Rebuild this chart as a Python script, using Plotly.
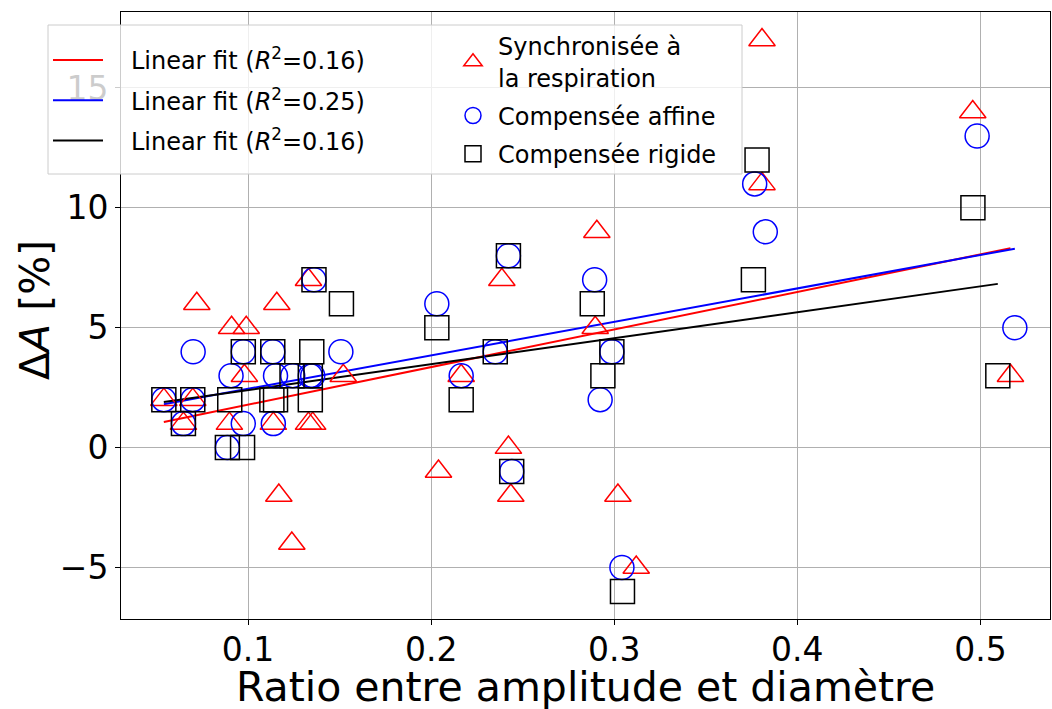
import numpy as np
import plotly.graph_objects as go

# ---- Data ----
sync_x = [0.054, 0.0647, 0.0698, 0.072, 0.0898, 0.091, 0.098, 0.099, 0.1138, 0.1157,
          0.1168, 0.1239, 0.133, 0.133, 0.1353, 0.152, 0.204, 0.2164, 0.2386, 0.2422,
          0.2435, 0.2896, 0.2905, 0.302, 0.312, 0.3807, 0.3807, 0.4958, 0.5164]
sync_y = [2, 1, 2, 6, 1, 5, 3, 5, 1, 6,
          -2, -4, 7, 1, 1, 3, -1, 3, 7, 0,
          -2, 5, 9, -2, -5, 17, 11, 14, 3]

affine_x = [0.054, 0.0647, 0.0698, 0.070, 0.0887, 0.0907, 0.0974, 0.0974, 0.1135, 0.1138,
            0.115, 0.1244, 0.134, 0.1353, 0.136, 0.1507, 0.2031, 0.2164, 0.235, 0.2422,
            0.244, 0.2893, 0.2923, 0.2987, 0.3042, 0.3767, 0.3825, 0.4982, 0.5188]
affine_y = [2, 1, 2, 4, 0, 3, 4, 1, 4, 1,
            3, 3, 3, 3, 7, 4, 6, 3, 4, 8,
            -1, 7, 2, 4, -5, 11, 9, 13, 5]

rigid_x = [0.054, 0.0647, 0.0698, 0.0887, 0.090, 0.097, 0.0974, 0.1135, 0.113, 0.115,
           0.124, 0.134, 0.134, 0.1348, 0.136, 0.151, 0.2031, 0.2164, 0.235, 0.2422,
           0.244, 0.288, 0.2938, 0.2987, 0.3045, 0.376, 0.378, 0.4959, 0.5095]
rigid_y = [2, 1, 2, 0, 2, 0, 4, 4, 2, 2,
           3, 3, 2, 4, 7, 6, 5, 2, 4, 8,
           -1, 6, 3, 4, -6, 7, 12, 10, 3]

series_names = ["Synchronisée à<br>la respiration", "Compensée affine", "Compensée rigide"]
series_colors = ["red", "blue", "black"]
series_symbols = ["triangle-up-open", "circle-open", "square-open"]
fit_r2_labels = ["0.16", "0.25", "0.16"]
x_ticks = [0.1, 0.2, 0.3, 0.4, 0.5]
y_ticks = [-5, 0, 5, 10, 15]

xs = [sync_x, affine_x, rigid_x]
ys = [sync_y, affine_y, rigid_y]
sizes = [23, 24, 24]

FONT = "DejaVu Sans"
NB = "\u00a0"
fig = go.Figure()

# fit lines (legend 1)
for i, (x, y, c, r2) in enumerate(zip(xs, ys, series_colors, fit_r2_labels)):
    x = np.asarray(x, float)
    y = np.asarray(y, float)
    k, b = np.polyfit(x, y, 1)
    lx = np.array([x.min(), x.max()])
    fig.add_trace(go.Scatter(
        x=lx, y=k * lx + b, mode="lines",
        line=dict(color=c, width=2),
        name=f"{NB*3}Linear fit (<i>R</i><sup>2</sup>={r2})",
        legend="legend", legendgroup=f"fit{i}",
    ))

# scatter markers (legend 2)
for i, (x, y, c, s, n, sz) in enumerate(zip(xs, ys, series_colors, series_symbols, series_names, sizes)):
    fig.add_trace(go.Scatter(
        x=x, y=y, mode="markers",
        marker=dict(symbol=s, size=sz, color=c, line=dict(width=1.5, color=c)),
        name=n, legend="legend2", legendgroup=f"pts{i}",
    ))

# plot area geometry in pixels
W, H = 1052, 709
L, R, T, B = 121, 2, 12, 90
pw, ph = W - L - R, H - T - B

def px_x(p):
    return (p - L) / pw

def px_y(p):
    return 1 - (p - T) / ph

fig.add_shape(type="rect", xref="paper", yref="paper",
              x0=px_x(48), x1=px_x(742), y0=px_y(174), y1=px_y(25),
              line=dict(color="#cccccc", width=1),
              fillcolor="rgba(255,255,255,0.8)", layer="above")

fig.add_annotation(text="Ratio entre amplitude et diamètre", xref="paper", yref="paper",
                   x=px_x(585.5), y=px_y(687), xanchor="center", yanchor="middle",
                   showarrow=False, font=dict(family=FONT, size=41, color="black"))
fig.add_annotation(text="Δ<i>A</i> [%]", xref="paper", yref="paper",
                   x=px_x(35), y=px_y(310), xanchor="center", yanchor="middle",
                   textangle=-90, showarrow=False,
                   font=dict(family=FONT, size=41, color="black"))

axis_common = dict(
    showline=True, linecolor="black", linewidth=1, mirror=True,
    showgrid=True, gridcolor="#b0b0b0", gridwidth=1,
    ticks="outside", ticklen=5, tickcolor="black", tickwidth=1,
    tickfont=dict(family=FONT, size=33, color="black"),
    zeroline=False, automargin=False,
)

fig.update_layout(
    width=W, height=H,
    margin=dict(l=L, r=R, t=T, b=B, autoexpand=False),
    paper_bgcolor="white", plot_bgcolor="white",
    font=dict(family=FONT, color="black"),
    xaxis=dict(range=[0.0306, 0.538], tickvals=x_ticks,
               ticktext=[f"{v:.1f}" for v in x_ticks], ticklabelstandoff=-4,
               **axis_common),
    yaxis=dict(range=[-7.15, 18.17], tickvals=y_ticks, **axis_common),
    legend=dict(x=px_x(48), y=px_y(38), xanchor="left", yanchor="top",
                bgcolor="rgba(0,0,0,0)", borderwidth=0,
                font=dict(family=FONT, size=24, color="black"),
                itemwidth=50, tracegroupgap=6),
    legend2=dict(x=px_x(448), y=px_y(24), xanchor="left", yanchor="top",
                 bgcolor="rgba(0,0,0,0)", borderwidth=0,
                 font=dict(family=FONT, size=24, color="black"),
                 itemwidth=40, tracegroupgap=4),
    showlegend=True,
)

fig.write_html("out.html", config={"displayModeBar": False},
               post_script="document.body.style.margin='0';document.body.style.overflow='hidden';")
